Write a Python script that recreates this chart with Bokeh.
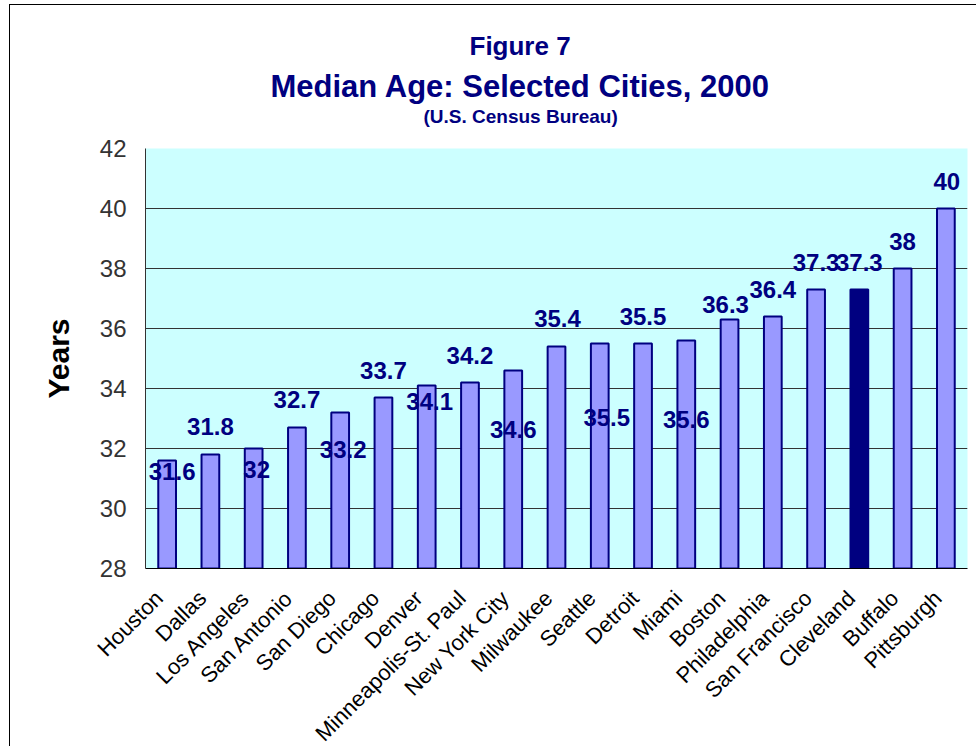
from math import pi
from bokeh.plotting import figure
from bokeh.models import (ColumnDataSource, Range1d, LabelSet, FixedTicker,
                          Title, LinearAxis)
from bokeh.core.properties import value
from bokeh.embed import file_html
from bokeh.resources import INLINE

# ---- data ----
cities = ["Houston", "Dallas", "Los Angeles", "San Antonio", "San Diego", "Chicago",
          "Denver", "Minneapolis-St. Paul", "New York City", "Milwaukee", "Seattle",
          "Detroit", "Miami", "Boston", "Philadelphia", "San Francisco", "Cleveland",
          "Buffalo", "Pittsburgh"]
median_age = [31.6, 31.8, 32, 32.7, 33.2, 33.7, 34.1, 34.2, 34.6, 35.4, 35.5,
              35.5, 35.6, 36.3, 36.4, 37.3, 37.3, 38, 40]
highlight_city = "Cleveland"
y_ticks = [28, 30, 32, 34, 36, 38, 40, 42]

# ---- styles ----
FONT = "Liberation Sans"
NAVY = "#000080"
BAR = "#9999FF"
FRAME_W, FRAME_H = 822, 420
# value-label placement relative to bar top, in pixels (dx right, dy down)
label_dx = [5, 0, 3, 0, 3, 0, 3, 0, 0, 1, 7, 0, 0, -4, 0, 0, 0, 0, 1]
label_dy = [11, -28, 21, -28, 37, -27, 16, -27, 59, -28, 74, -27, 79, -15, -27, -27, -27, -27, -27]
# category labels are drawn slightly left of the bar centres (pixels)
cat_label_shift_px = 8

n = len(cities)
slot = [i + 0.5 for i in range(n)]          # centre of each category slot

source = ColumnDataSource(dict(
    city=cities,
    pos=slot,
    age=median_age,
    label=[f"{v:g}" for v in median_age],
    fill=[NAVY if c == highlight_city else BAR for c in cities],
    dx=label_dx,
    dy_up=[-d for d in label_dy],
))

shift = cat_label_shift_px * n / FRAME_W

p = figure(x_range=Range1d(0, n), y_range=Range1d(y_ticks[0], y_ticks[-1]),
           title=None, x_axis_location=None,
           frame_width=FRAME_W, frame_height=FRAME_H,
           min_border_left=135, min_border_right=9, min_border_top=143, min_border_bottom=177,
           output_backend="svg", toolbar_location=None)
p.extra_x_ranges = {"labels": Range1d(shift, n + shift)}
p.styles = {"border-left": "1px solid #000000", "border-top": "1px solid #000000",
            "margin-left": "9px", "margin-top": "4px"}

p.background_fill_color = "#CCFFFF"
p.border_fill_color = "white"
p.outline_line_color = None

p.vbar(x="pos", top="age", bottom=y_ticks[0], width=0.41, source=source,
       fill_color="fill", line_color=NAVY, line_width=2)

labels = LabelSet(x="pos", y="age", text="label", source=source,
                  x_offset="dx", y_offset="dy_up",
                  text_align="center", text_baseline="middle",
                  text_font=value(FONT), text_font_size=value("24px"),
                  text_font_style=value("bold"), text_color=value(NAVY))
p.add_layout(labels)

# y axis
p.yaxis.ticker = FixedTicker(ticks=y_ticks)
p.yaxis.major_tick_line_color = None
p.yaxis.minor_tick_line_color = None
p.yaxis.major_label_text_font = FONT
p.yaxis.major_label_text_font_size = "24px"
p.yaxis.major_label_text_color = "#333333"
p.yaxis.major_label_standoff = 13
p.yaxis.axis_line_color = "#333333"
p.yaxis.axis_label = "Years"
p.yaxis.axis_label_text_font = FONT
p.yaxis.axis_label_text_font_size = "30px"
p.yaxis.axis_label_text_font_style = "bold"
p.yaxis.axis_label_text_color = "#000000"
p.yaxis.axis_label_standoff = 22

# x axis with city names
xaxis = LinearAxis(x_range_name="labels",
                   ticker=FixedTicker(ticks=slot),
                   major_label_overrides={t: c for t, c in zip(slot, cities)},
                   major_label_orientation=pi / 4,
                   major_tick_line_color=None, minor_tick_line_color=None,
                   major_label_text_font=FONT, major_label_text_font_size="22px",
                   major_label_text_color="#000000", major_label_standoff=20,
                   axis_line_color="#000000")
p.add_layout(xaxis, "below")

p.xgrid.visible = False
p.ygrid.ticker = FixedTicker(ticks=y_ticks[1:-1])
p.ygrid.grid_line_color = "#333333"

# titles, stacked upward from the plot area (first added = closest)
def add_title(text, size, offset, standoff):
    p.add_layout(Title(text=text, align="left", offset=offset, standoff=standoff,
                       text_font=FONT, text_font_size=size, text_font_style="bold",
                       text_color=NAVY), "above")

add_title(" ", "1px", 0, 19)                                   # spacer
add_title("(U.S. Census Bureau)", "19px", 278, 0)
add_title("Median Age: Selected Cities, 2000", "31px", 125, 0)
add_title("Figure 7", "26px", 324, 11)

open("out.html", "w").write(file_html(p, INLINE))
